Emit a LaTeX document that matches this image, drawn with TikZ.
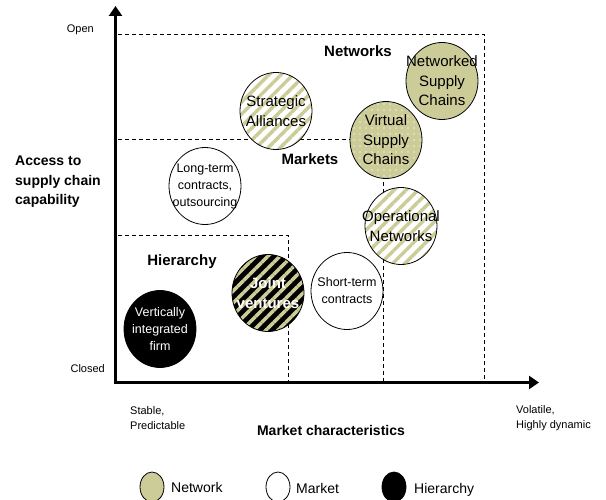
\documentclass[tikz,border=0pt]{standalone}
\usepackage{fontspec}
\setmainfont{Liberation Sans}
\usetikzlibrary{patterns.meta,arrows.meta,shapes.geometric}
\definecolor{olivec}{RGB}{204,204,153}
\definecolor{dotc}{RGB}{236,236,214}
\begin{document}
\begin{tikzpicture}[x=1pt,y=-1pt,
  circ/.style={ellipse, draw=black, line width=0.8pt, minimum width=72pt, minimum height=77pt, inner sep=0pt},
  netfill/.style={fill=olivec},
  mktfill/.style={fill=white},
  hierfill/.style={fill=black},
  stripes/.style={preaction={fill=#1}, pattern={Lines[angle=45,distance=8.5pt,line width=3.5pt]}, pattern color=olivec},
  dots/.style={preaction={fill=olivec}, pattern={Dots[radius=0.8pt,distance=6pt]}, pattern color=dotc},
  ctext/.style={align=center, inner sep=0pt, font=\fontsize{15}{19.5}\selectfont},
  stext/.style={align=center, inner sep=0pt, font=\fontsize{12.5}{17}\selectfont},
  zone/.style={font=\bfseries\fontsize{15}{18}\selectfont, inner sep=0pt},
  axlabel/.style={font=\fontsize{11}{15}\selectfont, inner sep=0pt, align=left},
  legtext/.style={font=\fontsize{14}{17}\selectfont, inner sep=0pt, anchor=west},
  boundary/.style={dash pattern=on 4pt off 3pt, line width=0.8pt},
  axis/.style={line width=2.6pt, line join=miter, {Triangle[width=13pt,length=10pt]}-{Triangle[width=13pt,length=10pt]}},
  legc/.style={ellipse, draw=black, line width=0.8pt, minimum width=24pt, minimum height=30pt, inner sep=0pt}
]
\useasboundingbox (0,0) rectangle (606,500);

% zone boundaries
\coordinate (ntl) at (118,34.5);
\coordinate (ntr) at (484,34.5);
\coordinate (nbr) at (484,382);
\coordinate (mtl) at (118,139);
\coordinate (mtr) at (383,139);
\coordinate (mbr) at (383,382);
\coordinate (htl) at (118,235);
\coordinate (htr) at (288,235);
\coordinate (hbr) at (288,382);
\draw[boundary] (ntl) -- (ntr) -- (nbr);
\draw[boundary] (mtl) -- (mtr) -- (mbr);
\draw[boundary] (htl) -- (htr) -- (hbr);

% axes
\coordinate (orig) at (115.5,382.5);
\coordinate (ytip) at (115.5,6);
\coordinate (xtip) at (539,382.5);
\draw[axis] (ytip) -- (orig) -- (xtip);

% circles
\node[circ, stripes=white] (sa) at (276,111) {};
\node[ctext] at (sa) {Strategic\\Alliances};

\node[circ, netfill] (nsc) at (442,81) {};
\node[ctext] at (nsc) {Networked\\Supply\\Chains};

\node[circ, dots] (vsc) at (386,140) {};
\node[ctext] at (vsc) {Virtual\\Supply\\Chains};

\node[circ, mktfill] (ltc) at (205,186) {};
\node[stext] at (ltc) {Long-term\\contracts,\\outsourcing};

\node[circ, stripes=white] (on) at (401,226) {};
\node[ctext] at (on) {Operational\\Networks};

\node[circ, stripes=black] (jv) at (268,293) {};
\node[ctext, text=white, font=\bfseries\fontsize{15}{19.5}\selectfont] at (jv) {Joint\\ventures};

\node[circ, mktfill] (stc) at (347,291) {};
\node[stext] at (stc) {Short-term\\contracts};

\node[circ, hierfill] (vif) at (160,329) {};
\node[stext, text=white] at (vif) {Vertically\\integrated\\firm};

% zone labels
\node[zone] (lnet) at (358,51) {Networks};
\node[zone] (lmkt) at (310,159) {Markets};
\node[zone] (lhier) at (182,262) {Hierarchy};

% axis labels
\node[axlabel, anchor=east] (open) at (94,30) {Open};
\node[axlabel, anchor=east] (closed) at (105,369) {Closed};
\node[inner sep=0pt, anchor=west, align=left, font=\bfseries\fontsize{14}{19.5}\selectfont] (acc) at (15,182) {Access to\\supply chain\\capability};
\node[axlabel, anchor=west] (stable) at (130,418) {Stable,\\Predictable};
\node[axlabel, anchor=west] (volatile) at (516,418) {Volatile,\\Highly dynamic};
\node[inner sep=0pt, font=\bfseries\fontsize{14}{17}\selectfont] (mchar) at (331,430) {Market characteristics};

% legend
\node[legc, netfill] (lg1) at (152,487) {};
\node[legtext] at (171,487) {Network};
\node[legc, mktfill] (lg2) at (278,487) {};
\node[legtext] at (296,488) {Market};
\node[legc, hierfill] (lg3) at (394,487) {};
\node[legtext] at (414,490) {Hierarchy};
\end{tikzpicture}
\end{document}
